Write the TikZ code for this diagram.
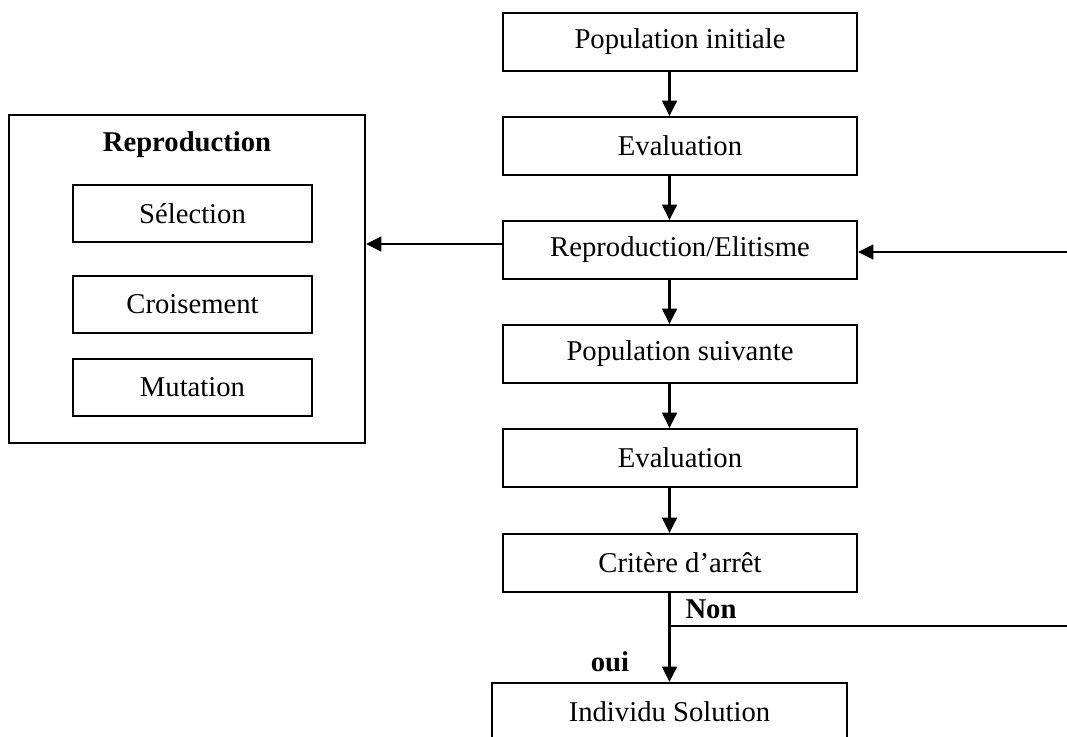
\documentclass[tikz,border=0pt]{standalone}
\usepackage{fontspec}
\setmainfont{Liberation Serif}
\usetikzlibrary{arrows.meta}
\newcommand{\lab}[1]{\fontsize{21.5}{25}\selectfont #1}

\begin{document}
\begin{tikzpicture}[x=0.75pt, y=-0.75pt,
    box/.style={draw, line width=1.5pt, minimum width=265.5pt, minimum height=43.5pt, font=\lab},
    sub/.style={draw, line width=1.5pt, minimum width=179.25pt, minimum height=42.75pt, font=\lab},
    arr/.style={line width=1.8pt, -{Triangle[width=11pt,length=11.5pt]}}]
    \useasboundingbox (0,0) rectangle (1067,736);
    % main column
    \node[box] (PI) at (680,42) {Population initiale};
    \node[box] (EV1) at (680,146) {Evaluation};
    \node[box] (RE) at (680,250) {Reproduction/Elitisme};
    \node[box] (PS) at (680,354) {Population suivante};
    \node[box] (EV2) at (680,458) {Evaluation};
    \node[box] (CA) at (680,563) {Crit\`ere d'arr\^et};
    \node[box, minimum width=266.25pt] (IS) at (669.5,712) {Individu Solution};
    % reproduction block
    \node[draw, line width=1.5pt, minimum width=267pt, minimum height=246pt] (Rep) at (187,279) {};
    \node[font=\lab\bfseries] (RT) at (187,145) {Reproduction};
    \node[sub] (SE) at (192.5,213.5) {S\'election};
    \node[sub] (CR) at (192.5,304) {Croisement};
    \node[sub] (MU) at (192.5,387) {Mutation};
    \node[font=\lab\bfseries] (NO) at (711,609) {Non};
    \node[font=\lab\bfseries] (OU) at (610,662) {oui};
    \coordinate (back) at (1067,252);
    \coordinate (split) at (669,626);
    \coordinate (nonend) at (1067,626);
    \path (PI.south -| IS.north) edge[arr] (EV1.north -| IS.north);
    \path (EV1.south -| IS.north) edge[arr] (RE.north -| IS.north);
    \path (RE.south -| IS.north) edge[arr] (PS.north -| IS.north);
    \path (PS.south -| IS.north) edge[arr] (EV2.north -| IS.north);
    \path (EV2.south -| IS.north) edge[arr] (CA.north -| IS.north);
    \path (CA.south -| IS.north) edge[arr] (IS.north);
    \path ([yshift=4.5pt]RE.west) edge[arr] ([yshift=4.5pt]RE.west -| Rep.east);
    \path (back) edge[arr] (back -| RE.east);
    \path (split) edge[line width=1.3pt] (nonend);
  \end{tikzpicture}
\end{document}
